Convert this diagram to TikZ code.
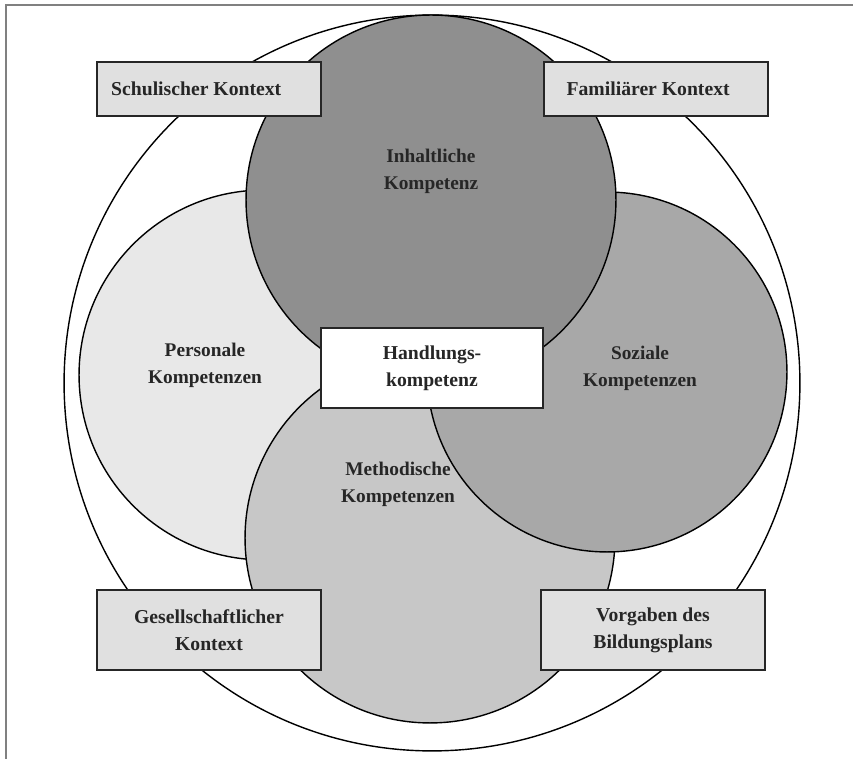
\documentclass[tikz,border=0pt]{standalone}
\usepackage{fontspec}
\setmainfont{Liberation Serif}
\usetikzlibrary{positioning}
\definecolor{kgrau}{gray}{0.88}
\definecolor{inhaltgrau}{gray}{0.56}
\definecolor{sozialgrau}{gray}{0.66}
\definecolor{methodgrau}{gray}{0.78}
\definecolor{persgrau}{gray}{0.91}
\tikzset{kreis/.style = {draw, circle, line width = 0.8pt, minimum size = 7.4cm, inner sep = 0}}
\tikzset{kontext/.style = {draw = black!85, fill = kgrau, line width = 1.1pt, minimum width = 4.48cm, align = center, inner sep = 0, text = black!85, font = \bfseries\fontsize{11.2pt}{15.5pt}\selectfont}}
\tikzset{beschrift/.style = {align = center, text = black!85, font = \bfseries\fontsize{11pt}{15.5pt}\selectfont}}

\begin{document}
\begin{tikzpicture}[x=0.02cm, y=-0.02cm]
      \useasboundingbox (0, 0) rectangle (853, 759);
      \draw [gray, line width=1.2pt] (6, 759) -- (6, 5) -- (853, 5);
      \node [kreis, minimum size=14.72cm] (aussen) at (432, 383) {};
      \foreach \name/\x/\y/\d/\farbe in {pers/264/375/7.4/persgrau, method/430/538/7.4/methodgrau, sozial/607/372/7.2/sozialgrau, inhalt/431/200/7.4/inhaltgrau} {
        \node [kreis, minimum size=\d cm, fill=\farbe] (\name) at (\x, \y) {};
      }
      \node [beschrift] (inhaltT) at (431, 171) {Inhaltliche\\Kompetenz};
      \node [beschrift] (persT) at (205, 365) {Personale\\Kompetenzen};
      \node [beschrift] (sozialT) at (640, 368) {Soziale\\Kompetenzen};
      \node [beschrift] (methodT) at (398, 484) {Methodische\\Kompetenzen};
      \node [kontext, fill=white, minimum width=4.44cm, minimum height=1.6cm] (handlung) at (432, 368) {Handlungs-\\kompetenz};
      \node [kontext, minimum height=1.08cm] (schule) at (209, 89) {Schulischer Kontext\hspace*{1.3em}};
      \node [kontext, minimum height=1.08cm] (familie) at (656, 89) {Familiärer Kontext\hspace*{0.8em}};
      \node [kontext, minimum height=1.6cm] (gesell) at (209, 630) {Gesellschaftlicher\\Kontext};
      \node [kontext, minimum height=1.6cm] (plan) at (653, 630) {Vorgaben des\\Bildungsplans};
    \end{tikzpicture}
\end{document}
